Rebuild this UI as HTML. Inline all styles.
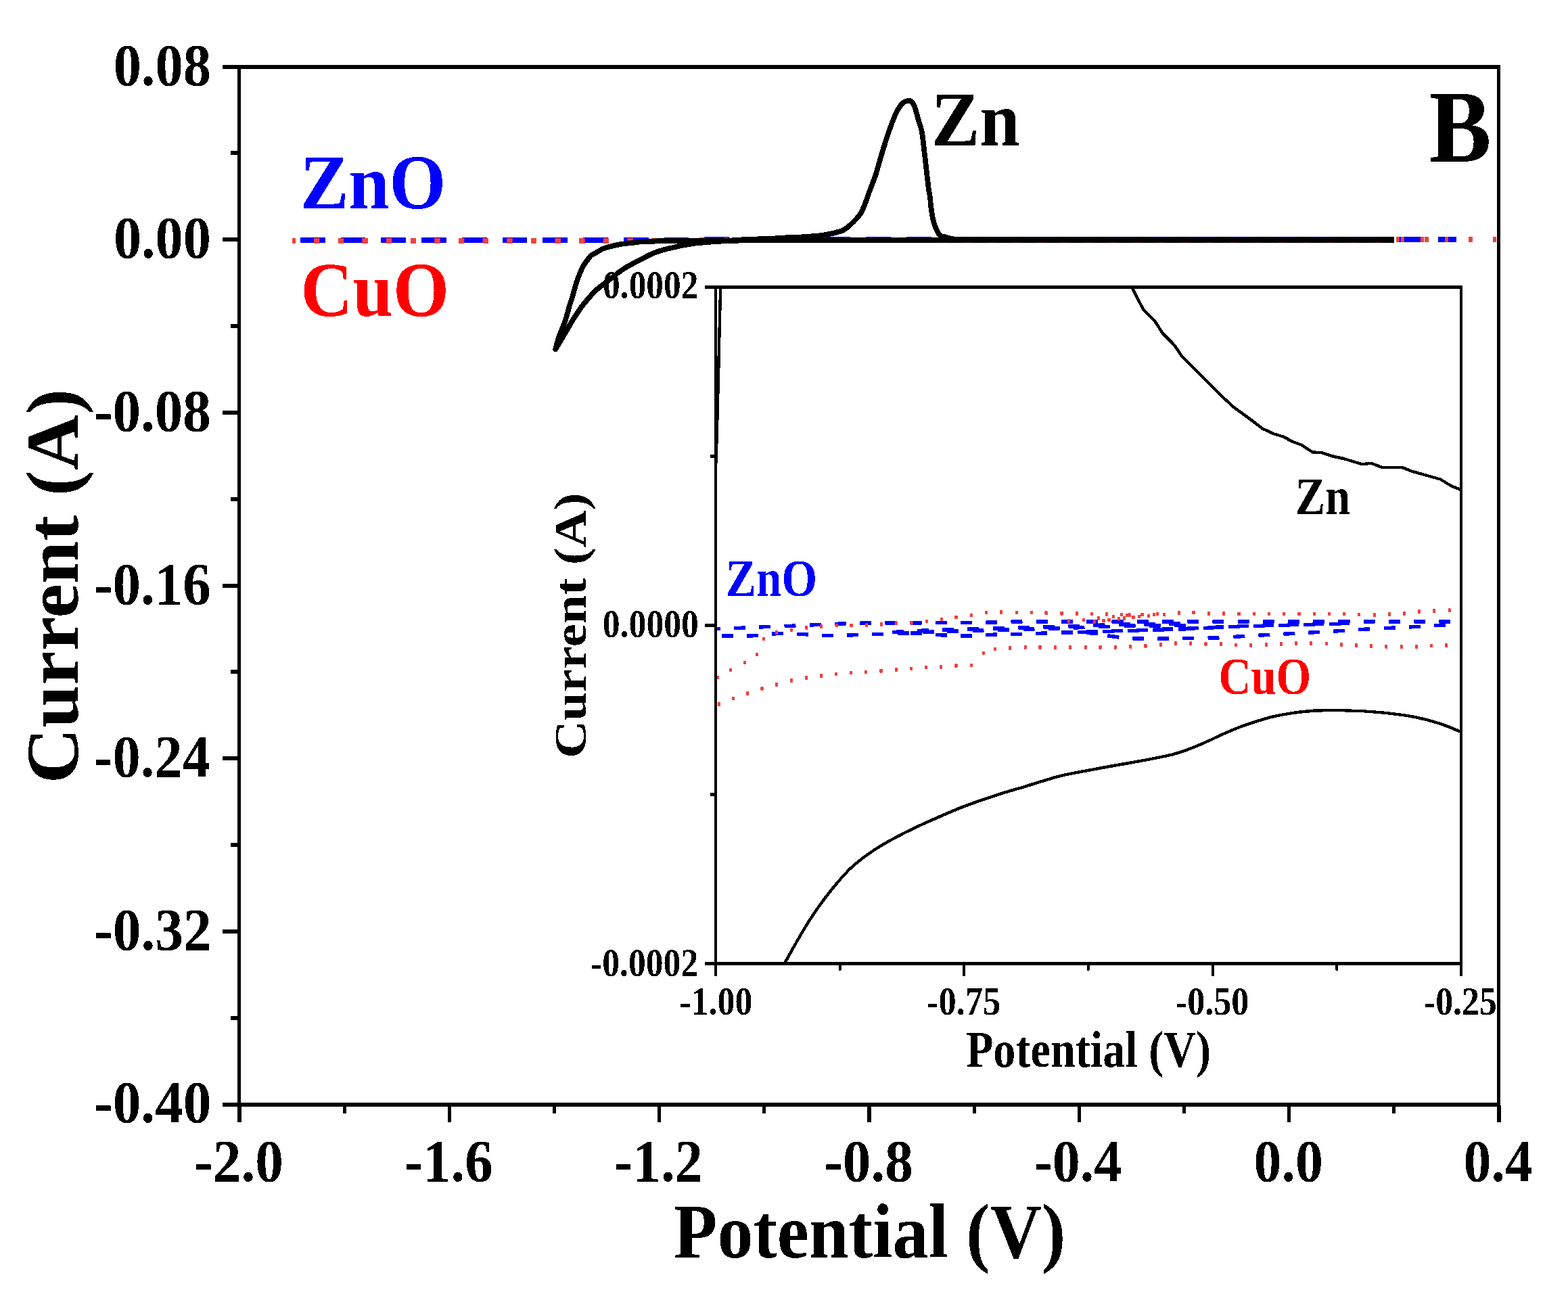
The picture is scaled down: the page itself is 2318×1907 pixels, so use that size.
<!DOCTYPE html>
<html><head><meta charset="utf-8"><title>Cyclic voltammetry</title>
<style>html,body{margin:0;padding:0;background:#fff;overflow:hidden}svg{display:block}</style>
</head><body>
<svg width="2318" height="1907" viewBox="0 0 2318 1907">
<defs><clipPath id="ic"><rect x="1058" y="424.5" width="1102" height="1000"/></clipPath>
<filter id="crisp" x="0" y="0" width="2318" height="1907" filterUnits="userSpaceOnUse" color-interpolation-filters="sRGB"><feComponentTransfer><feFuncA type="discrete" tableValues="0 1"/></feComponentTransfer></filter></defs>
<rect x="0" y="0" width="2318" height="1907" fill="#fff"/>
<g filter="url(#crisp)">
<g clip-path="url(#ic)">
<path d="M1058.0,929.7L1064.8,929.4M1085.0,928.6L1102.0,927.9M1122.2,927.0L1139.2,926.3M1159.5,925.7L1176.5,925.0M1196.7,924.0L1213.7,923.2M1233.9,922.4L1250.9,921.8M1271.2,921.1L1288.2,920.8M1308.4,920.8L1325.4,920.7M1345.6,920.7L1362.6,920.7M1382.8,920.7L1399.8,920.6M1420.1,920.6L1437.1,920.6M1457.3,920.2L1474.3,919.8M1494.5,919.2L1511.5,919.0M1531.8,919.0L1548.8,919.0M1569.0,919.0L1586.0,919.0M1606.2,919.0L1623.2,918.9M1643.5,918.9L1660.5,918.9M1680.7,918.9L1697.7,918.9M1717.9,918.9L1734.9,918.9M1755.1,918.9L1772.1,918.9M1792.4,918.9L1809.4,918.9M1829.6,918.9L1846.6,918.8M1866.8,918.8L1883.8,918.8M1904.1,918.8L1921.1,918.8M1941.3,918.8L1958.3,918.8M1978.5,918.8L1995.5,918.8M2015.8,918.8L2032.8,918.8M2053.0,918.7L2070.0,918.7M2090.2,918.7L2107.2,918.7M2127.4,918.7L2144.4,918.7M1067.0,940.3L1084.0,940.3M1104.0,940.3L1121.0,939.3M1141.0,937.1L1158.0,936.4M1178.0,937.1L1195.0,938.0M1215.0,939.4L1232.0,939.7M1252.0,939.1L1269.0,938.5M1289.0,937.7L1306.0,937.1M1327.0,936.5L1344.0,935.9M1346.0,935.9L1363.0,936.3M1383.0,938.2L1400.0,939.3M1420.0,940.2L1437.0,939.9M1457.0,938.7L1474.0,938.0M1494.0,937.7L1511.0,937.2M1531.0,936.4L1548.0,935.9M1569.0,935.2L1586.0,935.0M1606.0,935.2L1623.0,936.9M1637.3,939.8L1654.3,942.1M1674.2,943.7L1691.2,944.3M1711.2,944.3L1728.2,944.1M1748.2,943.5L1765.2,943.3M1785.5,943.2L1802.5,942.7M1823.4,941.5L1840.4,940.4M1860.4,939.3L1877.4,938.3M1897.4,937.3L1914.4,936.4M1934.3,935.3L1951.3,934.3M1971.3,933.2L1988.3,932.1M2008.3,930.8L2025.3,929.8M2046.2,928.8L2063.2,928.0M2083.1,927.0L2100.1,926.1M2120.1,924.9L2137.1,923.9M1319.2,934.4L1336.2,933.7M1356.4,932.5L1373.4,931.7M1392.9,931.1L1409.9,930.6M1430.0,930.1L1447.0,929.7M1467.9,929.1L1484.9,928.6M1505.0,927.9L1522.0,927.4M1542.2,926.9L1559.2,926.4M1579.0,925.8L1596.0,925.2M1616.4,924.5L1633.4,923.9M1654.1,923.1L1671.1,922.7M1691.3,922.7L1708.3,922.6M1728.2,922.3L1745.2,922.0M1363.9,934.8L1380.9,934.0M1400.4,933.4L1417.4,932.9M1437.5,932.4L1454.5,932.0M1475.4,931.4L1492.4,930.9M1512.5,930.2L1529.5,929.7M1549.7,929.2L1566.7,928.7M1586.5,928.1L1603.5,927.5M1623.9,926.8L1640.9,926.2M1661.6,925.4L1678.6,925.0M1698.8,925.0L1715.8,924.9M1735.7,924.6L1752.7,924.3M1593.2,934.9L1610.2,934.4M1630.1,933.7L1647.1,933.2M1667.1,932.6L1684.1,932.1M1704.1,931.3L1721.1,930.8M1742.0,930.2L1759.0,929.5M1779.0,928.5L1796.0,927.7M1816.0,926.8L1833.0,926.1M1853.0,925.7L1870.0,925.3M1890.0,924.8L1907.0,924.3M1927.0,923.8L1944.0,923.4M1964.8,922.9L1981.8,922.5M1606.2,933.9L1623.2,933.4M1643.1,932.7L1660.1,932.2M1680.1,931.6L1697.1,931.1M1717.1,930.3L1734.1,929.8M1755.0,929.2L1772.0,928.5M1792.0,927.5L1809.0,926.7M1829.0,925.8L1846.0,925.1M1866.0,924.7L1883.0,924.3M1903.0,923.8L1920.0,923.3M1940.0,922.8L1957.0,922.4M1977.8,921.9L1994.8,921.5M1058,929.7L1064.8,929.4" stroke="#0000ff" stroke-width="5.4" fill="none"/>
<g fill="#ef4141"><rect x="1058.3" y="998.6" width="4.2" height="5.4"/><rect x="1078.2" y="987.8" width="4.2" height="5.4"/><rect x="1098.7" y="976.8" width="4.2" height="5.4"/><rect x="1117.1" y="964.9" width="4.2" height="5.4"/><rect x="1126.6" y="941.8" width="4.2" height="5.4"/><rect x="1145.9" y="932.3" width="4.2" height="5.4"/><rect x="1167.7" y="928.9" width="4.2" height="5.4"/><rect x="1190.1" y="925.1" width="4.2" height="5.4"/><rect x="1212.1" y="923.2" width="4.2" height="5.4"/><rect x="1234.6" y="921.8" width="4.2" height="5.4"/><rect x="1256.4" y="921.8" width="4.2" height="5.4"/><rect x="1278.8" y="921.3" width="4.2" height="5.4"/><rect x="1301.0" y="920.5" width="4.2" height="5.4"/><rect x="1322.8" y="918.6" width="4.2" height="5.4"/><rect x="1345.5" y="918.1" width="4.2" height="5.4"/><rect x="1367.7" y="915.8" width="4.2" height="5.4"/><rect x="1389.7" y="912.9" width="4.2" height="5.4"/><rect x="1411.5" y="909.9" width="4.2" height="5.4"/><rect x="1433.7" y="906.7" width="4.2" height="5.4"/><rect x="1455.8" y="902.9" width="4.2" height="5.4"/><rect x="1478.2" y="902.3" width="4.2" height="5.4"/><rect x="1500.7" y="902.9" width="4.2" height="5.4"/><rect x="1522.7" y="902.9" width="4.2" height="5.4"/><rect x="1544.5" y="903.5" width="4.2" height="5.4"/><rect x="1567.4" y="904.1" width="4.2" height="5.4"/><rect x="1589.8" y="904.1" width="4.2" height="5.4"/><rect x="1611.9" y="904.6" width="4.2" height="5.4"/><rect x="1633.7" y="905.1" width="4.2" height="5.4"/><rect x="1656.0" y="905.6" width="4.2" height="5.4"/><rect x="1686.3" y="905.6" width="4.2" height="5.4"/><rect x="1708.6" y="904.6" width="4.2" height="5.4"/><rect x="1718.6" y="905.6" width="4.2" height="5.4"/><rect x="1740.8" y="903.2" width="4.2" height="5.4"/><rect x="1762.5" y="902.9" width="4.2" height="5.4"/><rect x="1784.9" y="904.1" width="4.2" height="5.4"/><rect x="1806.9" y="904.1" width="4.2" height="5.4"/><rect x="1829.3" y="904.7" width="4.2" height="5.4"/><rect x="1851.8" y="905.0" width="4.2" height="5.4"/><rect x="1873.6" y="905.0" width="4.2" height="5.4"/><rect x="1895.8" y="905.0" width="4.2" height="5.4"/><rect x="1918.4" y="905.0" width="4.2" height="5.4"/><rect x="1940.6" y="904.7" width="4.2" height="5.4"/><rect x="1962.7" y="904.7" width="4.2" height="5.4"/><rect x="1984.9" y="905.0" width="4.2" height="5.4"/><rect x="2007.1" y="906.0" width="4.2" height="5.4"/><rect x="2029.6" y="906.5" width="4.2" height="5.4"/><rect x="2051.8" y="905.4" width="4.2" height="5.4"/><rect x="2073.6" y="904.1" width="4.2" height="5.4"/><rect x="2095.8" y="901.3" width="4.2" height="5.4"/><rect x="2118.0" y="900.4" width="4.2" height="5.4"/><rect x="2140.7" y="899.5" width="4.2" height="5.4"/><rect x="1577.8" y="915.5" width="4.2" height="5.4"/><rect x="1599.6" y="913.6" width="4.2" height="5.4"/><rect x="1621.9" y="911.3" width="4.2" height="5.4"/><rect x="1644.2" y="908.9" width="4.2" height="5.4"/><rect x="1667.4" y="906.5" width="4.2" height="5.4"/><rect x="1695.8" y="907.9" width="4.2" height="5.4"/><rect x="1703.9" y="906.0" width="4.2" height="5.4"/><rect x="1615.7" y="916.5" width="4.2" height="5.4"/><rect x="1629.5" y="914.6" width="4.2" height="5.4"/><rect x="1637.5" y="913.6" width="4.2" height="5.4"/><rect x="1651.7" y="912.2" width="4.2" height="5.4"/><rect x="1659.8" y="911.3" width="4.2" height="5.4"/><rect x="1664.1" y="907.0" width="4.2" height="5.4"/><rect x="1673.5" y="909.8" width="4.2" height="5.4"/><rect x="1681.6" y="908.9" width="4.2" height="5.4"/><rect x="1060.8" y="1038.1" width="4.2" height="5.4"/><rect x="1081.6" y="1029.9" width="4.2" height="5.4"/><rect x="1102.9" y="1022.3" width="4.2" height="5.4"/><rect x="1124.3" y="1015.3" width="4.2" height="5.4"/><rect x="1145.9" y="1009.1" width="4.2" height="5.4"/><rect x="1167.7" y="1003.4" width="4.2" height="5.4"/><rect x="1189.7" y="999.2" width="4.2" height="5.4"/><rect x="1211.9" y="996.4" width="4.2" height="5.4"/><rect x="1233.7" y="993.9" width="4.2" height="5.4"/><rect x="1255.9" y="992.0" width="4.2" height="5.4"/><rect x="1277.7" y="990.7" width="4.2" height="5.4"/><rect x="1300.4" y="989.1" width="4.2" height="5.4"/><rect x="1322.8" y="987.3" width="4.2" height="5.4"/><rect x="1345.0" y="985.7" width="4.2" height="5.4"/><rect x="1367.0" y="984.0" width="4.2" height="5.4"/><rect x="1389.1" y="983.1" width="4.2" height="5.4"/><rect x="1411.3" y="981.5" width="4.2" height="5.4"/><rect x="1433.7" y="980.6" width="4.2" height="5.4"/><rect x="1451.6" y="962.6" width="4.2" height="5.4"/><rect x="1469.1" y="956.9" width="4.2" height="5.4"/><rect x="1490.9" y="955.4" width="4.2" height="5.4"/><rect x="1513.6" y="954.1" width="4.2" height="5.4"/><rect x="1535.4" y="954.1" width="4.2" height="5.4"/><rect x="1557.8" y="954.1" width="4.2" height="5.4"/><rect x="1580.0" y="954.1" width="4.2" height="5.4"/><rect x="1602.7" y="954.1" width="4.2" height="5.4"/><rect x="1624.5" y="954.1" width="4.2" height="5.4"/><rect x="1646.7" y="954.1" width="4.2" height="5.4"/><rect x="1669.1" y="953.1" width="4.2" height="5.4"/><rect x="1691.3" y="952.2" width="4.2" height="5.4"/><rect x="1713.6" y="950.3" width="4.2" height="5.4"/><rect x="1735.8" y="948.4" width="4.2" height="5.4"/><rect x="1758.2" y="948.4" width="4.2" height="5.4"/><rect x="1780.4" y="949.2" width="4.2" height="5.4"/><rect x="1802.9" y="949.4" width="4.2" height="5.4"/><rect x="1825.0" y="950.7" width="4.2" height="5.4"/><rect x="1847.2" y="951.2" width="4.2" height="5.4"/><rect x="1869.8" y="950.3" width="4.2" height="5.4"/><rect x="1892.1" y="949.4" width="4.2" height="5.4"/><rect x="1913.8" y="948.1" width="4.2" height="5.4"/><rect x="1935.9" y="948.5" width="4.2" height="5.4"/><rect x="1958.7" y="949.0" width="4.2" height="5.4"/><rect x="1980.7" y="950.3" width="4.2" height="5.4"/><rect x="2002.9" y="951.2" width="4.2" height="5.4"/><rect x="2024.7" y="952.2" width="4.2" height="5.4"/><rect x="2047.2" y="953.1" width="4.2" height="5.4"/><rect x="2069.6" y="953.5" width="4.2" height="5.4"/><rect x="2091.8" y="953.1" width="4.2" height="5.4"/><rect x="2113.9" y="951.6" width="4.2" height="5.4"/><rect x="2135.9" y="951.2" width="4.2" height="5.4"/></g>
<polyline points="1065.2,424.0 1064.4,455.0 1063.3,500.0 1062.3,544.0 1061.1,590.0 1060.0,633.0 1059.2,660.0 1058.2,688.0 1050.0,700.0" stroke="#000" stroke-width="4.4" fill="none" stroke-linejoin="round"/>
<polyline points="1672.0,422.0 1674.3,426.8 1681.0,440.3 1690.5,457.8 1706.7,474.0 1718.9,492.9 1736.4,510.5 1747.2,526.7 1762.1,541.6 1783.7,563.2 1805.3,584.8 1824.2,602.3 1848.5,619.9 1866.1,633.4 1883.6,641.5 1897.1,645.5 1910.6,652.8 1924.1,657.7 1940.4,668.5 1953.9,669.1 1970.1,674.5 1986.3,678.0 2013.3,686.1 2026.8,684.7 2043.0,690.9 2072.7,690.9 2086.2,696.3 2129.4,708.5 2145.6,718.5 2162.0,725.0" stroke="#000" stroke-width="4.4" fill="none" stroke-linejoin="round"/>
<path d="M1158.00,1427.00C1158.48,1426.22 1157.98,1427.43 1160.90,1422.30C1163.82,1417.17 1170.30,1405.28 1175.50,1396.20C1180.70,1387.12 1186.17,1377.28 1192.10,1367.80C1198.03,1358.32 1203.98,1349.18 1211.10,1339.30C1218.22,1329.42 1226.90,1317.97 1234.80,1308.50C1242.70,1299.03 1250.60,1290.00 1258.50,1282.50C1266.40,1275.00 1274.30,1269.23 1282.20,1263.50C1290.10,1257.77 1296.03,1253.83 1305.90,1248.10C1315.77,1242.37 1329.55,1235.02 1341.40,1229.10C1353.25,1223.18 1363.17,1218.72 1377.00,1212.60C1390.83,1206.48 1408.60,1198.53 1424.40,1192.40C1440.20,1186.27 1456.02,1180.93 1471.80,1175.80C1487.58,1170.67 1503.32,1166.33 1519.10,1161.60C1534.88,1156.87 1550.70,1151.35 1566.50,1147.40C1582.30,1143.45 1601.65,1140.30 1613.90,1137.90C1626.15,1135.50 1627.28,1135.28 1640.00,1133.00C1652.72,1130.72 1675.55,1126.92 1690.20,1124.20C1704.85,1121.48 1717.43,1119.22 1727.90,1116.70C1738.37,1114.18 1744.62,1112.03 1753.00,1109.10C1761.38,1106.17 1769.82,1102.73 1778.20,1099.10C1786.58,1095.47 1794.93,1091.07 1803.30,1087.30C1811.67,1083.53 1820.03,1079.77 1828.40,1076.50C1836.77,1073.23 1845.13,1070.43 1853.50,1067.70C1861.87,1064.97 1870.22,1062.20 1878.60,1060.10C1886.98,1058.00 1893.33,1056.65 1903.80,1055.10C1914.27,1053.55 1928.85,1051.63 1941.40,1050.80C1953.95,1049.97 1966.53,1050.00 1979.10,1050.10C1991.67,1050.20 2004.23,1050.65 2016.80,1051.40C2029.37,1052.15 2041.95,1053.15 2054.50,1054.60C2067.05,1056.05 2079.55,1057.50 2092.10,1060.10C2104.65,1062.70 2118.70,1066.63 2129.80,1070.20C2140.90,1073.77 2152.83,1079.20 2158.70,1081.50C2164.57,1083.80 2163.95,1083.58 2165.00,1084.00" stroke="#000" stroke-width="4.4" fill="none"/>
</g>
<path d="M431.6,355 L1000,355 L1040,354 L2060,354" stroke="#0000ff" stroke-width="8" fill="none" stroke-dasharray="36.5 23.25" stroke-dashoffset="47.35"/>
<path d="M431.6,356 L1000,356 L1040,354.8 L2060,354.8" stroke="#ef4141" stroke-width="7.8" fill="none" stroke-dasharray="8.5 27.15" stroke-dashoffset="3.25"/>
<path d="M2060.80,355.00C1954.00,355.00 1580.13,354.92 1420.00,355.00C1259.87,355.08 1170.57,355.35 1100.00,355.50C1029.43,355.65 1016.20,355.82 996.60,355.90C977.00,355.98 987.62,355.85 982.40,356.00C977.18,356.15 971.00,356.55 965.30,356.80C959.60,357.05 952.93,357.18 948.20,357.50C943.47,357.82 940.68,358.28 936.90,358.70C933.12,359.12 929.30,359.52 925.50,360.00C921.70,360.48 917.90,360.88 914.10,361.60C910.30,362.32 906.48,363.28 902.70,364.30C898.92,365.32 895.18,366.05 891.40,367.70C887.62,369.35 882.93,372.55 880.00,374.20C877.07,375.85 875.88,375.70 873.80,377.60C871.72,379.50 869.50,382.85 867.50,385.60C865.50,388.35 863.60,390.78 861.80,394.10C860.00,397.42 858.27,401.70 856.70,405.50C855.13,409.30 853.75,412.82 852.40,416.90C851.05,420.98 849.73,426.00 848.60,430.00C847.47,434.00 846.72,437.25 845.60,440.90C844.48,444.55 843.02,448.25 841.90,451.90C840.78,455.55 839.92,459.15 838.90,462.80C837.88,466.45 837.03,470.15 835.80,473.80C834.57,477.45 832.95,481.05 831.50,484.70C830.05,488.35 828.42,492.05 827.10,495.70C825.78,499.35 824.58,503.13 823.60,506.60C822.62,510.07 821.60,514.85 821.20,516.50C825.40,509.38 841.02,482.75 846.40,473.80C851.78,464.85 851.08,466.45 853.50,462.80C855.92,459.15 858.12,455.55 860.90,451.90C863.68,448.25 867.03,444.55 870.20,440.90C873.37,437.25 876.17,433.52 879.90,430.00C883.63,426.48 888.67,422.88 892.60,419.80C896.53,416.72 899.92,414.30 903.50,411.50C907.08,408.70 910.43,405.72 914.10,403.00C917.77,400.28 921.70,397.55 925.50,395.20C929.30,392.85 933.12,390.90 936.90,388.90C940.68,386.90 944.42,385.15 948.20,383.20C951.98,381.25 955.80,379.00 959.60,377.20C963.40,375.40 967.20,373.77 971.00,372.40C974.80,371.03 978.62,370.03 982.40,369.00C986.18,367.97 990.87,366.88 993.70,366.20C996.53,365.52 995.60,365.68 999.40,364.90C1003.20,364.12 1010.80,362.48 1016.50,361.50C1022.20,360.52 1027.92,359.63 1033.60,359.00C1039.28,358.37 1044.53,358.15 1050.60,357.70C1056.67,357.25 1061.77,356.88 1070.00,356.30C1078.23,355.72 1089.00,354.77 1100.00,354.20C1111.00,353.63 1125.88,353.37 1136.00,352.90C1146.12,352.43 1153.37,351.72 1160.70,351.40C1168.03,351.08 1175.58,351.22 1180.00,351.00C1184.42,350.78 1183.47,350.42 1187.20,350.10C1190.93,349.78 1197.98,349.45 1202.40,349.10C1206.82,348.75 1209.92,348.50 1213.70,348.00C1217.48,347.50 1222.22,346.60 1225.10,346.10C1227.98,345.60 1228.52,345.60 1231.00,345.00C1233.48,344.40 1237.58,343.22 1240.00,342.50C1242.42,341.78 1243.58,341.62 1245.50,340.70C1247.42,339.78 1249.58,338.37 1251.50,337.00C1253.42,335.63 1254.58,334.75 1257.00,332.50C1259.42,330.25 1263.50,326.25 1266.00,323.50C1268.50,320.75 1270.25,318.75 1272.00,316.00C1273.75,313.25 1275.17,310.00 1276.50,307.00C1277.83,304.00 1278.77,301.38 1280.00,298.00C1281.23,294.62 1281.52,293.20 1283.90,286.70C1286.28,280.20 1291.23,268.22 1294.30,259.00C1297.37,249.78 1299.53,240.62 1302.30,231.40C1305.07,222.18 1308.40,211.38 1310.90,203.70C1313.40,196.02 1315.00,191.43 1317.30,185.30C1319.60,179.17 1322.55,171.52 1324.70,166.90C1326.85,162.28 1328.48,160.12 1330.20,157.60C1331.92,155.08 1332.92,153.25 1335.00,151.80C1337.08,150.35 1340.62,149.15 1342.70,148.90C1344.78,148.65 1345.95,148.85 1347.50,150.30C1349.05,151.75 1350.35,153.30 1352.00,157.60C1353.65,161.90 1355.62,169.95 1357.40,176.10C1359.18,182.25 1361.23,186.82 1362.70,194.50C1364.17,202.18 1365.08,212.98 1366.20,222.20C1367.32,231.42 1368.33,240.58 1369.40,249.80C1370.47,259.02 1371.68,270.57 1372.60,277.50C1373.52,284.43 1374.35,287.18 1374.90,291.40C1375.45,295.62 1375.47,299.02 1375.90,302.80C1376.33,306.58 1376.88,310.32 1377.50,314.10C1378.12,317.88 1378.63,321.70 1379.60,325.50C1380.57,329.30 1381.63,333.17 1383.30,336.90C1384.97,340.63 1387.13,345.62 1389.60,347.90C1392.07,350.18 1395.35,349.82 1398.10,350.60C1400.85,351.38 1402.30,352.12 1406.10,352.60C1409.90,353.08 1405.25,353.23 1420.90,353.50C1436.55,353.77 1393.35,354.08 1500.00,354.20C1606.65,354.32 1967.33,354.20 2060.80,354.20" stroke="#000" stroke-width="7.7" fill="none" stroke-linejoin="round" stroke-linecap="butt"/>
<rect x="351.00" y="96.00" width="1867.00" height="6.00" fill="#000"/>
<rect x="351.00" y="1630.00" width="1867.00" height="6.00" fill="#000"/>
<rect x="351.00" y="96.00" width="5.00" height="1540.00" fill="#000"/>
<rect x="2213.00" y="96.00" width="5.00" height="1540.00" fill="#000"/>
<rect x="329.00" y="96.00" width="23.00" height="6.00" fill="#000"/>
<rect x="329.00" y="351.00" width="23.00" height="6.00" fill="#000"/>
<rect x="329.00" y="607.00" width="23.00" height="6.00" fill="#000"/>
<rect x="329.00" y="863.00" width="23.00" height="6.00" fill="#000"/>
<rect x="329.00" y="1118.00" width="23.00" height="6.00" fill="#000"/>
<rect x="329.00" y="1374.00" width="23.00" height="6.00" fill="#000"/>
<rect x="329.00" y="1630.00" width="23.00" height="6.00" fill="#000"/>
<rect x="341.00" y="223.00" width="11.00" height="6.00" fill="#000"/>
<rect x="341.00" y="479.00" width="11.00" height="6.00" fill="#000"/>
<rect x="341.00" y="735.00" width="11.00" height="6.00" fill="#000"/>
<rect x="341.00" y="990.00" width="11.00" height="6.00" fill="#000"/>
<rect x="341.00" y="1246.00" width="11.00" height="6.00" fill="#000"/>
<rect x="341.00" y="1502.00" width="11.00" height="6.00" fill="#000"/>
<rect x="351.40" y="1634.00" width="5.20" height="25.00" fill="#000"/>
<rect x="661.72" y="1634.00" width="5.20" height="25.00" fill="#000"/>
<rect x="972.04" y="1634.00" width="5.20" height="25.00" fill="#000"/>
<rect x="1282.36" y="1634.00" width="5.20" height="25.00" fill="#000"/>
<rect x="1592.68" y="1634.00" width="5.20" height="25.00" fill="#000"/>
<rect x="1903.00" y="1634.00" width="5.20" height="25.00" fill="#000"/>
<rect x="2213.32" y="1634.00" width="5.20" height="25.00" fill="#000"/>
<rect x="506.56" y="1634.00" width="5.20" height="12.00" fill="#000"/>
<rect x="816.88" y="1634.00" width="5.20" height="12.00" fill="#000"/>
<rect x="1127.20" y="1634.00" width="5.20" height="12.00" fill="#000"/>
<rect x="1437.52" y="1634.00" width="5.20" height="12.00" fill="#000"/>
<rect x="1747.84" y="1634.00" width="5.20" height="12.00" fill="#000"/>
<rect x="2058.16" y="1634.00" width="5.20" height="12.00" fill="#000"/>
<rect x="1042.00" y="422.00" width="1120.00" height="5.00" fill="#000"/>
<rect x="1042.00" y="1422.00" width="1120.00" height="5.00" fill="#000"/>
<rect x="1056.00" y="422.00" width="4.00" height="1021.00" fill="#000"/>
<rect x="2158.00" y="422.00" width="4.00" height="1021.00" fill="#000"/>
<rect x="1042.00" y="922.00" width="15.00" height="5.00" fill="#000"/>
<rect x="1050.00" y="672.00" width="7.00" height="5.00" fill="#000"/>
<rect x="1050.00" y="1172.00" width="7.00" height="5.00" fill="#000"/>
<rect x="1423.33" y="1425.00" width="4.00" height="18.00" fill="#000"/>
<rect x="1790.65" y="1425.00" width="4.00" height="18.00" fill="#000"/>
<rect x="1239.66" y="1425.00" width="4.00" height="9.50" fill="#000"/>
<rect x="1606.99" y="1425.00" width="4.00" height="9.50" fill="#000"/>
<rect x="1974.31" y="1425.00" width="4.00" height="9.50" fill="#000"/>
<rect x="2068.70" y="350.00" width="36.10" height="8.00" fill="#0000ff"/>
<rect x="2126.10" y="350.00" width="26.80" height="8.00" fill="#0000ff"/>
<rect x="2064.10" y="350.00" width="4.60" height="8.00" fill="#ef4141"/>
<rect x="2070.90" y="350.00" width="4.90" height="8.00" fill="#ef4141"/>
<rect x="2099.90" y="350.00" width="4.90" height="8.00" fill="#ef4141"/>
<rect x="2106.30" y="350.00" width="5.70" height="8.00" fill="#ef4141"/>
<rect x="2136.20" y="350.00" width="4.70" height="8.00" fill="#ef4141"/>
<rect x="2171.10" y="350.00" width="5.80" height="8.00" fill="#ef4141"/>
<rect x="2207.10" y="350.00" width="4.90" height="8.00" fill="#ef4141"/>
<g font-family="Liberation Serif, Times New Roman, serif" font-weight="bold" font-size="100">
<text transform="matrix(0.82381 0 0 0.89113 167.68 125.81)" fill="#000">0.08</text>
<text transform="matrix(0.82247 0 0 0.88670 167.88 380.62)" fill="#000">0.00</text>
<text transform="matrix(0.82997 0 0 0.88670 138.96 636.72)" fill="#000">-0.08</text>
<text transform="matrix(0.82909 0 0 0.89039 138.96 892.71)" fill="#000">-0.16</text>
<text transform="matrix(0.82451 0 0 0.88522 138.98 1147.52)" fill="#000">-0.24</text>
<text transform="matrix(0.83411 0 0 0.88670 138.94 1403.72)" fill="#000">-0.32</text>
<text transform="matrix(0.83322 0 0 0.88818 138.94 1658.82)" fill="#000">-0.40</text>
<text transform="matrix(0.83363 0 0 0.88966 287.04 1745.51)" fill="#000">-2.0</text>
<text transform="matrix(0.82813 0 0 0.88966 597.56 1745.51)" fill="#000">-1.6</text>
<text transform="matrix(0.82683 0 0 0.88966 908.07 1745.51)" fill="#000">-1.2</text>
<text transform="matrix(0.83194 0 0 0.88966 1218.15 1745.51)" fill="#000">-0.8</text>
<text transform="matrix(0.81943 0 0 0.88966 1528.40 1745.51)" fill="#000">-0.4</text>
<text transform="matrix(0.81841 0 0 0.88966 1853.60 1745.51)" fill="#000">0.0</text>
<text transform="matrix(0.81872 0 0 0.88966 2163.50 1745.51)" fill="#000">0.4</text>
<text transform="matrix(1.05952 0 0 1.14518 995.83 1859.10)" fill="#000">Potential (V)</text>
<text transform="matrix(0 -1.13972 1.09242 0 115.00 1158.40)" fill="#000">Current (A)</text>
<text transform="matrix(1.38289 0 0 1.51818 2112.50 239.49)" fill="#000">B</text>
<text transform="matrix(1.06897 0 0 1.14061 1377.01 214.80)" fill="#000">Zn</text>
<text transform="matrix(1.07675 0 0 1.14950 443.78 307.95)" fill="#0000ff">ZnO</text>
<text transform="matrix(1.06763 0 0 1.14236 444.56 466.58)" fill="#ff0000">CuO</text>
<text transform="matrix(0.51386 0 0 0.59557 891.12 441.41)" fill="#000">0.0002</text>
<text transform="matrix(0.51669 0 0 0.59704 890.81 942.30)" fill="#000">0.0000</text>
<text transform="matrix(0.51643 0 0 0.60148 873.01 1442.90)" fill="#000">-0.0002</text>
<text transform="matrix(0.51977 0 0 0.59852 1004.29 1500.40)" fill="#000">-1.00</text>
<text transform="matrix(0.52338 0 0 0.59852 1370.08 1500.40)" fill="#000">-0.75</text>
<text transform="matrix(0.52176 0 0 0.59852 1737.79 1500.40)" fill="#000">-0.50</text>
<text transform="matrix(0.51741 0 0 0.59852 2105.00 1500.40)" fill="#000">-0.25</text>
<text transform="matrix(0.66229 0 0 0.77056 1427.90 1576.90)" fill="#000">Potential (V)</text>
<text transform="matrix(0 -0.76631 0.68182 0 865.90 1120.83)" fill="#000">Current (A)</text>
<text transform="matrix(0.66466 0 0 0.77513 1914.80 759.90)" fill="#000">Zn</text>
<text transform="matrix(0.67605 0 0 0.78861 1072.75 881.21)" fill="#0000ff">ZnO</text>
<text transform="matrix(0.66388 0 0 0.78473 1801.58 1025.95)" fill="#ff0000">CuO</text>
</g>
</g>
</svg>
</body></html>
